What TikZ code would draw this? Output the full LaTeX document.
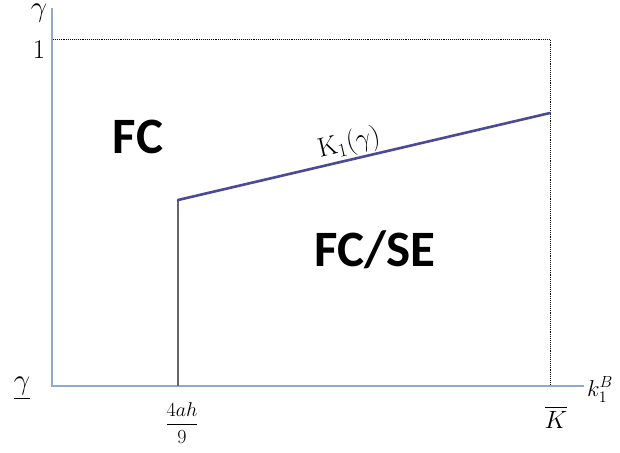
\RequirePackage{fix-cm}
\documentclass[tikz,border=0pt]{standalone}
\usepackage{amsmath}
\usepackage{fontspec}
\newfontfamily\labfont{Carlito}
\begin{document}
\begin{tikzpicture}[x=1pt,y=-1pt,
  axis/.style={draw=axisblue,line width=1.6pt},
  bound/.style={draw=black,densely dotted,line width=0.9pt},
  region/.style={font=\labfont\bfseries\fontsize{51}{56}\selectfont,anchor=base,inner sep=0pt},
  mlab/.style={font=\fontsize{25}{30}\selectfont,inner sep=0pt},
  glab/.style={font=\fontsize{29}{32}\selectfont,inner sep=0pt}]
\definecolor{axisblue}{HTML}{8FA9D3}
\definecolor{curveblue}{HTML}{4A4A98}
\definecolor{stepgray}{HTML}{666666}
\useasboundingbox (0,0) rectangle (620,452);
\fill[white] (0,0) rectangle (620,452);
\coordinate (O) at (52,386);
\coordinate (ytop) at (52,8);
\coordinate (xend) at (584,386);
\coordinate (yone) at (53,39);
\coordinate (corner) at (550,39);
\coordinate (kbar) at (550,386);
\coordinate (kk) at (178,386);
\coordinate (kstart) at (178,200);
\coordinate (kend) at (550,113);
\draw[bound] (yone) -- (corner) -- (kbar);
\draw[axis] (ytop) -- (O) -- (xend);
\draw[draw=stepgray,line width=2.2pt] (kk) -- (kstart);
\draw[draw=curveblue,line width=2.6pt,line cap=round] (kstart) -- node[sloped,above,pos=0.47,inner sep=1pt,font=\fontsize{27}{30}\selectfont] (klab) {$\mathrm{K}_1(\gamma)$} (kend);
\node[glab,anchor=base] (gtop) at (39,17) {$\gamma$};
\node[font=\fontsize{27}{30}\selectfont,inner sep=0pt,anchor=base] (onel) at (39,58) {1};
\node[glab,anchor=base] (glow) at (22,389) {$\underline{\gamma}$};
\node[font=\fontsize{23}{26}\selectfont,inner sep=0pt,anchor=base west] (kB) at (587,396) {$k_1^B$};
\node[mlab,anchor=base] (Kb) at (556,428) {$\overline{K}$};
\node[font=\fontsize{20}{24}\selectfont,inner sep=0pt] (frac) at (182,423) {$\dfrac{4ah}{9}$};
\node[region] (fc) at (138,153) {FC};
\node[region] (fcse) at (375,266) {FC/SE};
\end{tikzpicture}
\end{document}
